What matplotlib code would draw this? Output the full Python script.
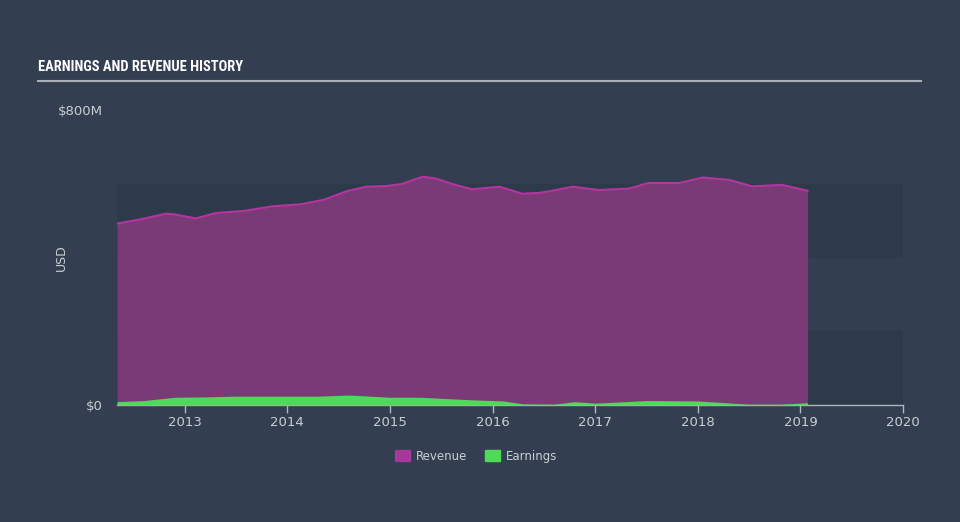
import matplotlib
matplotlib.use("Agg")
import matplotlib.pyplot as plt
from matplotlib.patches import Patch
from matplotlib import font_manager
import numpy as np

# Data (values in $M, x in decimal years)
rev_x = [2012.34, 2012.56, 2012.82, 2012.90, 2013.11, 2013.31, 2013.57, 2013.86, 2014.12,
         2014.35, 2014.58, 2014.77, 2014.97, 2015.11, 2015.32, 2015.45, 2015.61, 2015.80,
         2016.07, 2016.29, 2016.45, 2016.58, 2016.78, 2017.04, 2017.33, 2017.52, 2017.82,
         2018.05, 2018.31, 2018.53, 2018.82, 2019.07]
revenue = [492, 503, 519, 517, 506, 521, 526, 539, 544,
           556, 580, 592, 594, 599, 619, 614, 599, 585,
           592, 573, 575, 581, 592, 583, 587, 602, 602,
           617, 610, 593, 597, 581]

earn_x = [2012.34, 2012.60, 2012.90, 2013.20, 2013.50, 2013.90, 2014.30, 2014.60, 2015.00,
          2015.30, 2015.80, 2016.10, 2016.30, 2016.60, 2016.80, 2017.00, 2017.50, 2018.00,
          2018.50, 2018.80, 2019.07]
earnings = [9, 12, 21, 22, 24, 24, 24, 27, 21,
            21, 14, 11, 3, 2, 9, 5, 12, 11,
            2, 2, 6]

year_ticks = [2013, 2014, 2015, 2016, 2017, 2018, 2019, 2020]
y_ticks = [0, 800]
y_tick_labels = ["$0", "$800M"]

BG = "#333f50"
BAND = "#2d3a49"
REV_FILL = "#7a3a76"
REV_LINE = "#b3359f"
EARN = "#4fd958"
TXT = "#c9ced4"

# pick a condensed font for the title if available
names = sorted({f.name for f in font_manager.fontManager.ttflist})
title_family = "DejaVu Sans"
for cand in ["Liberation Sans Narrow", "DejaVu Sans Condensed", "Roboto Condensed",
             "Open Sans Condensed", "Noto Sans Condensed"]:
    if cand in names:
        title_family = cand
        break

fig = plt.figure(figsize=(9.6, 5.22), dpi=100, facecolor=BG)
ax = fig.add_axes([117/960, (522-405)/522, (903-117)/960, (405-110)/522])
ax.set_facecolor(BG)

ax.set_xlim(2012.34, 2020.0)
ax.set_ylim(0, 800)

for lo, hi in [(0, 200), (400, 600)]:
    ax.axhspan(lo, hi, color=BAND, zorder=0, lw=0)

ax.fill_between(rev_x, revenue, 0, color=REV_FILL, zorder=2, lw=0)
ax.plot(rev_x, revenue, color=REV_LINE, lw=1.5, zorder=3)
ax.fill_between(earn_x, earnings, 0, color=EARN, zorder=4, lw=0)

for s in ["top", "right", "left"]:
    ax.spines[s].set_visible(False)
ax.spines["bottom"].set_color("#aeb6c0")
ax.spines["bottom"].set_linewidth(1)

ax.set_xticks(year_ticks)
ax.set_xticklabels([str(y) for y in year_ticks], color=TXT, fontsize=9.5)
ax.tick_params(axis="x", colors="#aeb6c0", length=6, width=1, labelcolor=TXT, pad=2)
ax.set_yticks(y_ticks)
ax.set_yticklabels(y_tick_labels, color=TXT, fontsize=9.5)
ax.tick_params(axis="y", length=0, pad=10, labelcolor=TXT)
ax.set_ylabel("USD", color=TXT, fontsize=9)
ax.yaxis.set_label_coords(-49/786, 0.5)

# Title, fitted to about the reference width
title = fig.text(38/960, 1 - 67/522, "EARNINGS AND REVENUE HISTORY", color="white",
                 fontsize=12, fontweight="bold", family=[title_family, "DejaVu Sans"],
                 va="center", ha="left")
fig.canvas.draw()
w = title.get_window_extent().width
title.set_fontsize(12 * 205 / w)
fig.add_artist(plt.Line2D([38/960, 921/960], [1 - 81/522, 1 - 81/522],
                          color="#a9afb7", lw=1.5))

handles = [Patch(color="#a7389b", label="Revenue"), Patch(color=EARN, label="Earnings")]
leg = fig.legend(handles=handles, loc="center", bbox_to_anchor=(476/960, 1 - 456/522),
                 ncol=2, frameon=False, fontsize=8.5, handlelength=1.3, handleheight=1.1,
                 columnspacing=1.5, handletextpad=0.5)
for t in leg.get_texts():
    t.set_color(TXT)

fig.savefig("out.png", dpi=100, facecolor=BG)
